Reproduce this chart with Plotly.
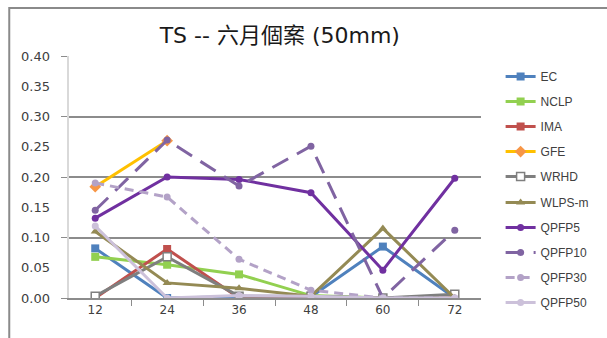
import plotly.graph_objects as go

# Lead times (hours)
hours = ["12", "24", "36", "48", "60", "72"]

ec = [0.082, 0.0, 0.002, 0.002, 0.085, 0.0]
nclp = [0.068, 0.055, 0.039, 0.004, 0.0, 0.0]
ima = [0.0, 0.081, 0.0, 0.0, 0.0, 0.0]
gfe = [0.184, 0.260, None, None, None, None]
wrhd = [0.003, 0.068, 0.003, 0.003, 0.0, 0.006]
wlps_m = [0.110, 0.025, 0.016, 0.003, 0.115, 0.0]
qpfp5 = [0.132, 0.200, 0.196, 0.174, 0.046, 0.198]
qpfp10 = [0.145, 0.261, 0.185, 0.251, 0.0, 0.112]
qpfp30 = [0.190, 0.167, 0.064, 0.013, 0.0, 0.0]
qpfp50 = [0.119, 0.0, 0.004, 0.003, 0.0, 0.0]

y_ticks = [0.0, 0.05, 0.10, 0.15, 0.20, 0.25, 0.30, 0.35, 0.40]

series = [
    ("EC", ec, dict(color="#4F81BD", width=3), dict(symbol="square", size=8, color="#4F81BD")),
    ("NCLP", nclp, dict(color="#92D050", width=3), dict(symbol="square", size=8, color="#92D050")),
    ("IMA", ima, dict(color="#C0504D", width=3), dict(symbol="square", size=8, color="#C0504D")),
    ("GFE", gfe, dict(color="#FFC000", width=3), dict(symbol="diamond", size=9, color="#F79646")),
    ("WRHD", wrhd, dict(color="#7F7F7F", width=3),
     dict(symbol="square", size=8, color="white", line=dict(color="#7F7F7F", width=1.5))),
    ("WLPS-m", wlps_m, dict(color="#948A54", width=3), dict(symbol="triangle-up", size=8, color="#948A54")),
    ("QPFP5", qpfp5, dict(color="#7030A0", width=3), dict(symbol="circle", size=7, color="#7030A0")),
    ("QPFP10", qpfp10, dict(color="#8064A2", width=3, dash="18px,10px"), dict(symbol="circle", size=7, color="#8064A2")),
    ("QPFP30", qpfp30, dict(color="#B3A2C7", width=3, dash="9px,6px"), dict(symbol="circle", size=7, color="#B3A2C7")),
    ("QPFP50", qpfp50, dict(color="#CCC1DA", width=3), dict(symbol="circle", size=7, color="#CCC1DA")),
]

fig = go.Figure()
for i, (name, vals, line, marker) in enumerate(series):
    fig.add_trace(go.Scatter(
        x=hours, y=vals, name=name, mode="lines+markers",
        line=line, marker=marker, legendgroup=name,
        legend="legend" if i < 5 else "legend2",
        connectgaps=False, yaxis="y",
    ))

# invisible helper on the label axis so it gets drawn
fig.add_trace(go.Scatter(x=hours, y=[None] * 6, yaxis="y2", showlegend=False, hoverinfo="skip"))

font_fam = "DejaVu Sans, Noto Sans CJK TC, sans-serif"
legend_style = dict(x=1.0476, xanchor="left", yanchor="top",
                    font=dict(family="Liberation Sans, Arial, sans-serif", size=12, color="#404040"),
                    tracegroupgap=6, itemwidth=30, bgcolor="rgba(0,0,0,0)")

fig.update_layout(
    width=607, height=338,
    margin=dict(l=69, r=118, t=56, b=40),
    paper_bgcolor="white", plot_bgcolor="white",
    title=dict(text="TS -- 六月個案 (50mm)", x=0.461, xanchor="center",
               y=0.896, yanchor="middle",
               font=dict(family=font_fam, size=22, color="#1a1a1a")),
    font=dict(family=font_fam, color="#404040"),
    showlegend=True,
    legend=dict(y=0.975, **legend_style),
    legend2=dict(y=0.4545, **legend_style),
    xaxis=dict(type="category", showgrid=False, showline=True,
               linecolor="#8c8c8c", linewidth=1.5,
               ticks="outside", tickson="boundaries", ticklen=6,
               tickcolor="#8c8c8c", tickfont=dict(size=12, color="#404040")),
    yaxis=dict(range=[0, 0.4], dtick=0.1, showgrid=True, gridcolor="#8c8c8c",
               gridwidth=1.5, showticklabels=False, zeroline=False,
               ticks="outside", ticklen=6, tickcolor="#8c8c8c",
               showline=True, linecolor="#d9d9d9", linewidth=1.5),
    yaxis2=dict(range=[0, 0.4], overlaying="y", side="left",
                tickvals=y_ticks, tickformat=".2f", showgrid=False,
                zeroline=False, showline=False, ticks="",
                ticklabelstandoff=18,
                tickfont=dict(size=13, color="#404040")),
    shapes=[dict(type="path", xref="paper", yref="paper",
                 path="M -0.145,-0.3 L -0.145,1.198 L 1.4,1.198",
                 line=dict(color="#8a8a8a", width=2))],
)

fig.write_html("out.html")
